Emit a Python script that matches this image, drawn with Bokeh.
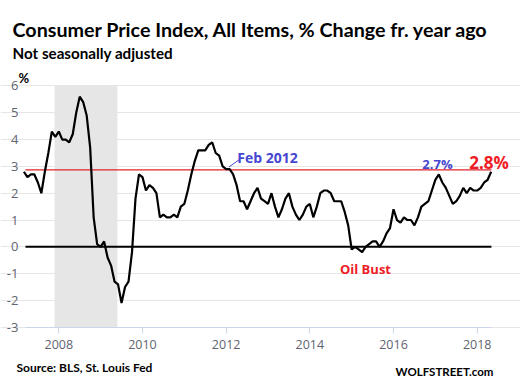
from bokeh.plotting import figure
from bokeh.models import (Label, FixedTicker, BoxAnnotation, Range1d, LinearAxis,
                          Grid)
from bokeh.embed import file_html
from bokeh.resources import INLINE

# CPI-U, all items, % change from a year ago (not seasonally adjusted)
start_year = 2007
start_month = 3  # March 2007
cpi_2007 = [2.8, 2.6, 2.7, 2.7, 2.4, 2.0, 2.8, 3.5, 4.3, 4.1]          # Mar-Dec
cpi_2008 = [4.3, 4.0, 4.0, 3.9, 4.2, 5.0, 5.6, 5.4, 4.9, 3.7, 1.1, 0.1]
cpi_2009 = [0.0, 0.2, -0.4, -0.7, -1.3, -1.4, -2.1, -1.5, -1.3, -0.2, 1.8, 2.7]
cpi_2010 = [2.6, 2.1, 2.3, 2.2, 2.0, 1.1, 1.2, 1.1, 1.1, 1.2, 1.1, 1.5]
cpi_2011 = [1.6, 2.1, 2.7, 3.2, 3.6, 3.6, 3.6, 3.8, 3.9, 3.5, 3.4, 3.0]
cpi_2012 = [2.9, 2.9, 2.7, 2.3, 1.7, 1.7, 1.4, 1.7, 2.0, 2.2, 1.8, 1.7]
cpi_2013 = [1.6, 2.0, 1.5, 1.1, 1.4, 1.8, 2.0, 1.5, 1.2, 1.0, 1.2, 1.5]
cpi_2014 = [1.6, 1.1, 1.5, 2.0, 2.1, 2.1, 2.0, 1.7, 1.7, 1.7, 1.3, 0.8]
cpi_2015 = [-0.1, 0.0, -0.1, -0.2, 0.0, 0.1, 0.2, 0.2, 0.0, 0.2, 0.5, 0.7]
cpi_2016 = [1.4, 1.0, 0.9, 1.1, 1.0, 1.0, 0.8, 1.1, 1.5, 1.6, 1.7, 2.1]
cpi_2017 = [2.5, 2.7, 2.4, 2.2, 1.9, 1.6, 1.7, 1.9, 2.2, 2.0, 2.2, 2.1]
cpi_2018 = [2.1, 2.2, 2.4, 2.5, 2.8]                                     # Jan-May

cpi = (cpi_2007 + cpi_2008 + cpi_2009 + cpi_2010 + cpi_2011 + cpi_2012 +
       cpi_2013 + cpi_2014 + cpi_2015 + cpi_2016 + cpi_2017 + cpi_2018)
dates = [start_year + (start_month - 1 + i) / 12 for i in range(len(cpi))]

recession_start = 2007.9   # Dec 2007
recession_end = 2009.4     # Jun 2009
reference_level = 2.87     # Feb 2012 level
x_ticks = [2008, 2010, 2012, 2014, 2016, 2018]
y_ticks = [6, 5, 4, 3, 2, 1, 0, -1, -2, -3]
y_min, y_max = -3, 6
x_start, x_end = 2007.204, 2018.34     # extent of the plotting area

W, H = 520, 382
blue = "#4646d0"
red = "#ee1c25"
TICK_FONT = "Open Sans"
HEAD_FONT = "Lato"

# the canvas holds the titles too, so the view extends beyond the data area
p = figure(width=W, height=H, output_backend="svg", toolbar_location=None,
           x_range=Range1d(2006.607, 2019.035), y_range=Range1d(-5.063, 9.190),
           x_axis_type=None, y_axis_type=None, min_border=0,
           outline_line_color=None, background_fill_color="white",
           border_fill_color="white")

p.add_layout(BoxAnnotation(left=recession_start, right=recession_end,
                           bottom=y_min, top=y_max,
                           fill_color="#e6e6e6", fill_alpha=1.0, line_color=None,
                           level="underlay"))

p.add_layout(Grid(dimension=1, ticker=FixedTicker(ticks=y_ticks),
                  bounds=(x_start, x_end), grid_line_color="#e6e6e6",
                  grid_line_width=1))

xaxis = LinearAxis(ticker=FixedTicker(ticks=x_ticks), fixed_location=y_min,
                   bounds=(x_start, x_end))
xaxis.axis_line_color = "#ccd6eb"
xaxis.major_tick_line_color = "#ccd6eb"
xaxis.major_tick_out = 6
xaxis.major_tick_in = 0
xaxis.minor_tick_line_color = None
xaxis.major_label_text_font = TICK_FONT
xaxis.major_label_text_font_size = "12.5px"
xaxis.major_label_text_color = "#5f6470"
xaxis.major_label_standoff = 7
p.add_layout(xaxis, "below")

yaxis = LinearAxis(ticker=FixedTicker(ticks=y_ticks), fixed_location=x_start,
                   bounds=(y_min, y_max))
yaxis.major_label_overrides = {t: str(t) for t in y_ticks}
yaxis.axis_line_color = None
yaxis.major_tick_line_color = None
yaxis.minor_tick_line_color = None
yaxis.major_tick_out = 0
yaxis.major_tick_in = 0
yaxis.major_label_text_font = TICK_FONT
yaxis.major_label_text_font_size = "13px"
yaxis.major_label_text_color = "#5f6470"
yaxis.major_label_standoff = 7
p.add_layout(yaxis, "left")

p.line([x_start, x_end], [reference_level, reference_level],
       line_color="#e0222b", line_width=1.3)
p.line([x_start, x_end], [0, 0], line_color="black", line_width=2)
p.line(dates, cpi, line_color="black", line_width=2.2)
p.line([2012.07, 2012.31], [2.98, 3.25], line_color=blue, line_width=1)


def add_label(text, x, y, size, color="black", align="left", units="data",
              font=HEAD_FONT):
    p.add_layout(Label(x=x, y=y, x_units=units, y_units=units, text=text,
                       text_font=font, text_font_size=size,
                       text_font_style="bold", text_color=color,
                       text_align=align, text_baseline="alphabetic"))


# texts placed in screen pixels (from the bottom-left corner of the canvas)
add_label("Consumer Price Index, All Items, % Change fr. year ago", 12, 352.7,
          "19.7px", units="screen")
add_label("Not seasonally adjusted", 12, 329.7, "15.2px", units="screen")
add_label("%", 18, 305, "13px", units="screen")
add_label("Source: BLS, St. Louis Fed", 16, 15.5, "12px", units="screen")
add_label("WOLFSTREET.com", 493, 11.3, "11.5px", align="right", units="screen")

# annotations in data coordinates
add_label("Feb 2012", 2012.264, 3.35, "14px", color=blue, font=TICK_FONT)
add_label("2.7%", 2017.051, 3.08, "13px", color=blue, align="center", font=TICK_FONT)
add_label("2.8%", 2018.284, 3.13, "17px", color=red, align="center", font=TICK_FONT)
add_label("Oil Bust", 2015.330, -0.81, "13px", color=red, align="center", font=TICK_FONT)

open("out.html", "w").write(file_html(p, INLINE))
